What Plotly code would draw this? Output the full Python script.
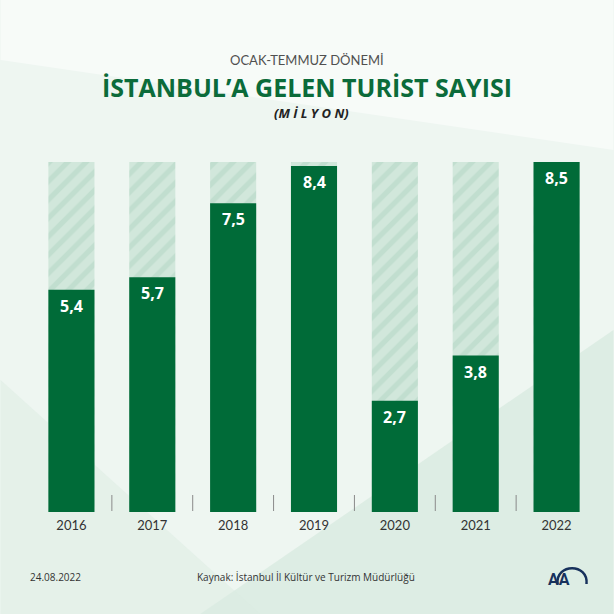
import plotly.graph_objects as go

years = ["2016", "2017", "2018", "2019", "2020", "2021", "2022"]
tourists = [5.4, 5.7, 7.5, 8.4, 2.7, 3.8, 8.5]
value_labels = ["5,4", "5,7", "7,5", "8,4", "2,7", "3,8", "8,5"]

supertitle = "OCAK-TEMMUZ DÖNEMİ"
title = "İSTANBUL’A GELEN TURİST SAYISI"
unit = "(M İ L Y O N)"
date_text = "24.08.2022"
source_text = "Kaynak: İstanbul İl Kültür ve Turizm Müdürlüğü"

full_scale = max(tourists)
DARK = "#006b38"

fig = go.Figure()

# hatched background bars
fig.add_trace(go.Bar(
    x=years, y=[full_scale] * len(years),
    marker=dict(color="#d1e7db",
                pattern=dict(shape="/", fgcolor="#c1decf", bgcolor="#d1e7db",
                             size=13, solidity=0.4, fillmode="replace"),
                line=dict(width=0)),
    width=0.57, hoverinfo="skip", showlegend=False))

fig.add_trace(go.Bar(
    x=years, y=tourists,
    marker=dict(color=DARK, line=dict(width=0)),
    width=0.57, showlegend=False))


def py(pix):
    # pixel y (from top) -> paper coords of the plot area (162..512)
    return (512 - pix) / 350.0


def px(pix):
    return (pix - 30.5) / 567.0


annotations = []
for i, (v, lab) in enumerate(zip(tourists, value_labels)):
    annotations.append(dict(x=i, y=v, xref="x", yref="y", text=f"<b>{lab}</b>",
                            showarrow=False, yshift=-16, yanchor="middle",
                            font=dict(family="Open Sans", size=16, color="white")))

annotations += [
    dict(x=px(307), y=py(60), xref="paper", yref="paper", text=supertitle,
         showarrow=False, yanchor="middle",
         font=dict(family="Lato", size=13, color="#505050")),
    dict(x=px(307), y=py(87), xref="paper", yref="paper", text=f"<b>{title}</b>",
         showarrow=False, yanchor="middle",
         font=dict(family="Open Sans", size=25, color="#0b6b3a")),
    dict(x=px(311), y=py(113), xref="paper", yref="paper", text=f"<b><i>{unit}</i></b>",
         showarrow=False, yanchor="middle",
         font=dict(family="Open Sans", size=13, color="#222222")),
    dict(x=px(27), y=py(577), xref="paper", yref="paper", text=date_text,
         showarrow=False, xanchor="left", yanchor="middle",
         font=dict(family="Open Sans", size=10, color="#333333")),
    dict(x=px(306), y=py(577), xref="paper", yref="paper", text=source_text,
         showarrow=False, yanchor="middle",
         font=dict(family="Open Sans", size=10, color="#333333")),
    dict(x=px(572.5), y=py(579), xref="paper", yref="paper", text="<b>AA</b>",
         showarrow=False, yanchor="middle",
         font=dict(family="Roboto", size=16, color="#17315c")),
]

shapes = [
    # faint background shapes
    dict(type="path", xref="paper", yref="paper", layer="below",
         path=f"M {px(614)} {py(330)} L {px(614)} {py(614)} L {px(200)} {py(614)} Z",
         fillcolor="#cfe6d8", opacity=0.55, line=dict(width=0)),
    dict(type="path", xref="paper", yref="paper", layer="below",
         path=f"M {px(0)} {py(0)} L {px(614)} {py(0)} L {px(614)} {py(150)} L {px(0)} {py(60)} Z",
         fillcolor="#ffffff", opacity=0.5, line=dict(width=0)),
    dict(type="path", xref="paper", yref="paper", layer="below",
         path=f"M {px(0)} {py(380)} L {px(0)} {py(614)} L {px(260)} {py(614)} Z",
         fillcolor="#dcece2", opacity=0.5, line=dict(width=0)),
    # AA arc
    dict(type="path", xref="paper", yref="paper",
         path=f"M {px(558)} {py(584)} C {px(556)} {py(563)}, {px(589)} {py(563)}, {px(587)} {py(584)}",
         line=dict(color="#17315c", width=2.5)),
]
for i in range(len(years) - 1):
    shapes.append(dict(type="line", xref="x", yref="paper", x0=i + 0.5, x1=i + 0.5,
                       y0=py(511), y1=py(495), line=dict(color="#8a8a8a", width=1)))

fig.update_layout(
    width=614, height=614,
    margin=dict(l=30.5, r=16.5, t=162, b=102),
    paper_bgcolor="#eef6f1", plot_bgcolor="rgba(0,0,0,0)",
    barmode="overlay", bargap=0.43,
    annotations=annotations, shapes=shapes,
    xaxis=dict(type="category", range=[-0.5, 6.5], showgrid=False, zeroline=False,
               showline=False, ticks="", tickfont=dict(family="Lato", size=13, color="#333333"),
               ticklabelstandoff=4),
    yaxis=dict(range=[0, full_scale], visible=False, showgrid=False, zeroline=False),
)

fig.write_html("out.html", config={"displayModeBar": False},
               post_script="document.body.style.margin='0';document.body.style.overflow='hidden';")
